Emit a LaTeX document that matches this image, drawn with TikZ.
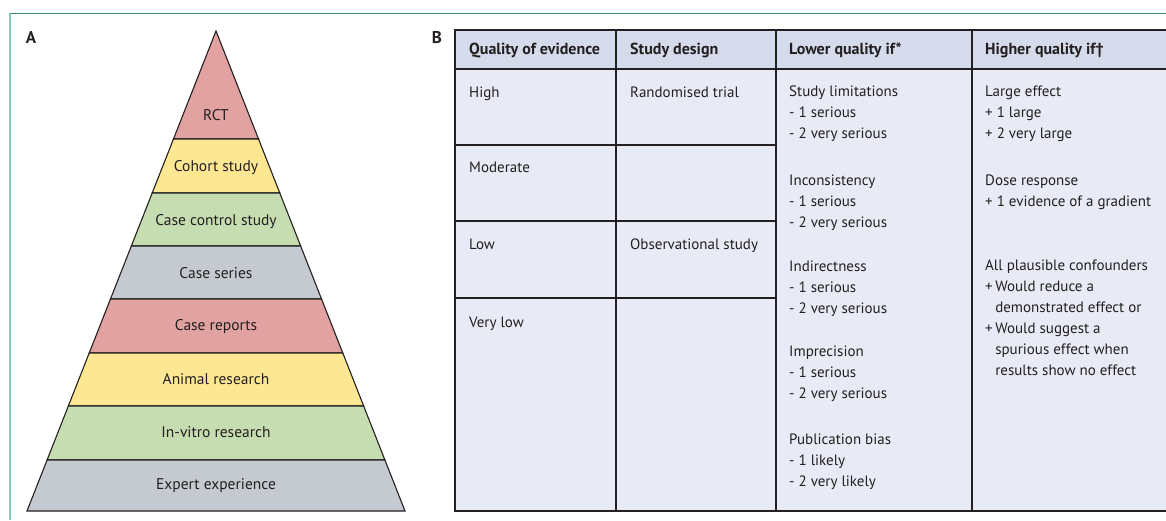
\documentclass[tikz,border=0pt]{standalone}
\usepackage{fontspec}
\setmainfont{PT Sans}
\usetikzlibrary{positioning}
\definecolor{ink}{HTML}{231F20}
\definecolor{rose}{HTML}{E1A2A1}
\definecolor{sand}{HTML}{FDE792}
\definecolor{sage}{HTML}{C6DDB1}
\definecolor{slate}{HTML}{C5C9D0}
\definecolor{headfill}{HTML}{D6DBEB}
\definecolor{bodyfill}{HTML}{E8EBF5}
\definecolor{mint}{HTML}{8CC8AE}
\definecolor{pine}{HTML}{3F8F68}
\tikzset{
  band/.style={draw=ink, line width=1.1pt, line join=miter},
  plab/.style={font=\fontsize{15.5pt}{18pt}\selectfont, text=ink, inner sep=0pt},
  % first line baseline sits 11pt under the node's top
  cell/.style={anchor=north west, align=left, inner sep=0pt, text=ink,
    execute at begin node={\rule{0pt}{11pt}}},
  hcell/.style={cell, font=\bfseries\fontsize{16pt}{21pt}\selectfont},
  grid/.style={draw=ink, line width=1.2pt},
  panel/.style={font=\bfseries\fontsize{17pt}{20pt}\selectfont, text=ink, inner sep=0pt},
}

\begin{document}
\begin{tikzpicture}[x=1pt, y=-1pt, font=\fontsize{15pt}{21pt}\selectfont]
  \useasboundingbox (0,0) rectangle (1166,520);
  \clip (0,0) rectangle (1166,520);
  % frame
  \draw[mint, line width=1.6pt] (10,520) -- (10,13);
  \draw[pine, line width=0.8pt] (10,13) -- (1166,13);
  \node[panel] (pa) at (31,38) {A};
  \node[panel] (pb) at (437,38) {B};

  % pyramid
  \foreach \ya/\yb/\ty/\c/\t [count=\i] in {31/139/115/rose/RCT, 139/193/168/sand/Cohort study,
      193/246/222/sage/Case control study, 246/299/273/slate/Case series,
      299/353/327/rose/Case reports, 353/406/379/sand/Animal research,
      406/460/432/sage/In-vitro research, 460/511/486/slate/Expert experience} {
    \path[band, fill=\c] ({216-0.39375*(\ya-31)},\ya) -- ({216+0.39375*(\ya-31)},\ya)
      -- ({216+0.39375*(\yb-31)},\yb) -- ({216-0.39375*(\yb-31)},\yb) -- cycle;
    \node[plab] (p\i) at (216,\ty) {\t};
  }

  % table
  \fill[headfill] (455,30) rectangle (1170,69);
  \fill[bodyfill] (455,69) rectangle (1170,511);
  \draw[grid] (1170,30) -- (455,30) -- (455,511) -- (1170,511);
  \draw[grid] (455,69) -- (1170,69);
  \foreach \x in {616,776,972} \draw[grid] (\x,30) -- (\x,511);
  \foreach \y in {145,221,298} \draw[grid] (455,\y) -- (776,\y);

  \node[hcell] (h1) at (469,43) {Quality of evidence};
  \node[hcell] (h2) at (630,43) {Study design};
  \node[hcell] (h3) at (789,43) {Lower quality if*};
  \node[hcell] (h4) at (985,43) {Higher quality if†};

  \node[cell] (q1) at (469,86) {High};
  \node[cell] (q2) at (469,161) {Moderate};
  \node[cell] (q3) at (469,238) {Low};
  \node[cell] (q4) at (469,316) {Very low};

  \node[cell] (d1) at (630,86) {Randomised trial};
  \node[cell] (d2) at (630,238) {Observational study};

  \node[cell] (l1) at (789,86) {Study limitations\\- 1 serious\\- 2 very serious};
  \node[cell] (l2) at (789,175) {Inconsistency\\- 1 serious\\- 2 very serious};
  \node[cell] (l3) at (789,261) {Indirectness\\- 1 serious\\- 2 very serious};
  \node[cell] (l4) at (789,346) {Imprecision\\- 1 serious\\- 2 very serious};
  \node[cell] (l5) at (789,434) {Publication bias\\- 1 likely\\- 2 very likely};

  \node[cell] (u1) at (985,86) {Large effect\\+ 1 large\\+ 2 very large};
  \node[cell] (u2) at (985,175) {Dose response\\+ 1 evidence of a gradient};
  \node[cell] (u3) at (985,260) {All plausible confounders\\
    +\,Would reduce a\\\hphantom{+\,}demonstrated effect or\\
    +\,Would suggest a\\\hphantom{+\,}spurious effect when\\
    \hphantom{+\,}results show no effect};
\end{tikzpicture}
\end{document}
